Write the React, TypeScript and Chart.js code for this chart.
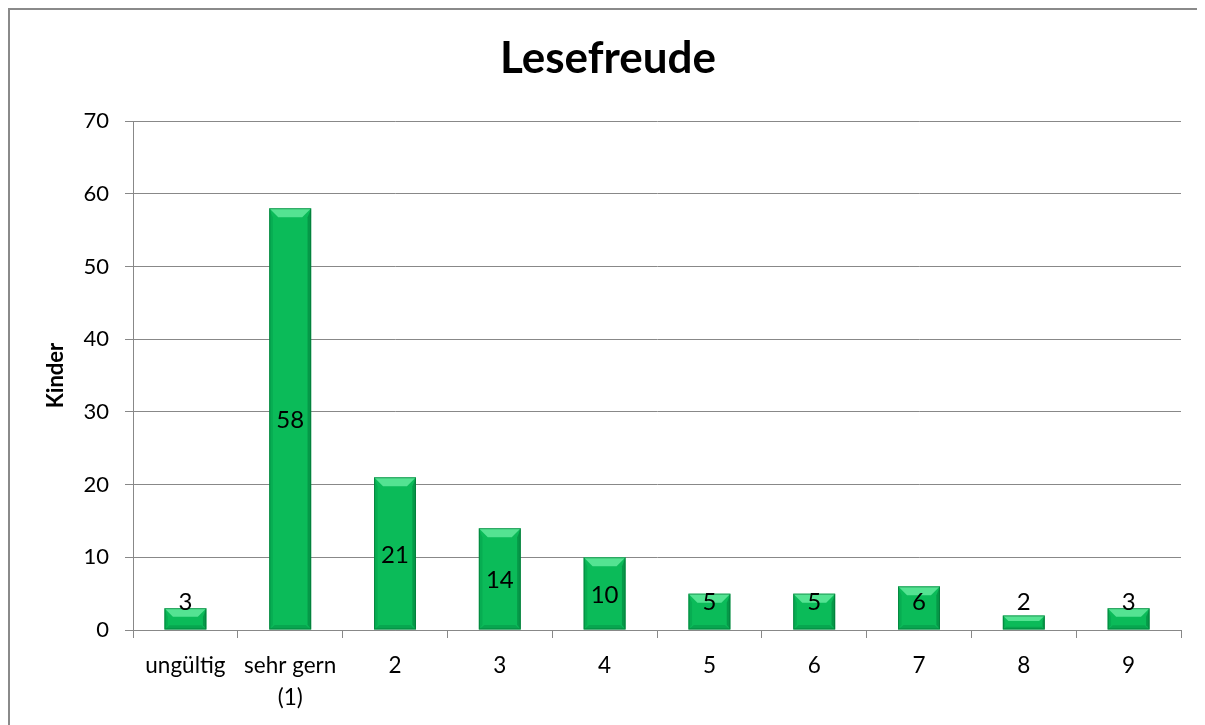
import React, { useEffect, useRef } from "react";
import { Chart, registerables } from "chart.js";

Chart.register(...registerables);

const categories: (string | string[])[] = ["ungültig", ["sehr gern", "(1)"], "2", "3", "4", "5", "6", "7", "8", "9"];
const kinder: number[] = [3, 58, 21, 14, 10, 5, 5, 6, 2, 3];
const yTicks: number[] = [0, 10, 20, 30, 40, 50, 60, 70];
const chartTitle = "Lesefreude";

const FONT = "Lato, 'Open Sans', sans-serif";
const CANVAS_W = 1195;
const CANVAS_H = 715;

const titlePlugin = {
  id: "centeredTitle",
  afterDraw(chart: any) {
    const ctx = chart.ctx;
    ctx.save();
    ctx.fillStyle = "#000";
    ctx.font = `bold 44px ${FONT}`;
    ctx.textAlign = "center";
    ctx.textBaseline = "middle";
    ctx.fillText(chartTitle, 598, 48.5);
    ctx.restore();
  },
};

const bevelPlugin = {
  id: "bevel",
  afterDatasetsDraw(chart: any) {
    const ctx = chart.ctx;
    const meta = chart.getDatasetMeta(0);
    ctx.save();
    meta.data.forEach((bar: any, i: number) => {
      const w = bar.width;
      const l = bar.x - w / 2;
      const r = bar.x + w / 2;
      const t = bar.y;
      const b = bar.base;
      const h = b - t;
      const bv = Math.min(9, h / 2.5);
      ctx.fillStyle = "rgba(110,240,165,0.75)";
      ctx.beginPath();
      ctx.moveTo(l, t);
      ctx.lineTo(r, t);
      ctx.lineTo(r - bv, t + bv);
      ctx.lineTo(l + bv, t + bv);
      ctx.closePath();
      ctx.fill();
      ctx.fillStyle = "rgba(0,150,70,0.35)";
      ctx.beginPath();
      ctx.moveTo(l, t);
      ctx.lineTo(l + bv * 0.4, t + bv);
      ctx.lineTo(l + bv * 0.4, b - bv * 0.5);
      ctx.lineTo(l, b);
      ctx.closePath();
      ctx.fill();
      ctx.fillStyle = "rgba(0,110,50,0.45)";
      ctx.beginPath();
      ctx.moveTo(r, t);
      ctx.lineTo(r - bv * 0.4, t + bv);
      ctx.lineTo(r - bv * 0.4, b - bv * 0.5);
      ctx.lineTo(r, b);
      ctx.closePath();
      ctx.fill();
      ctx.fillStyle = "rgba(0,120,55,0.3)";
      ctx.beginPath();
      ctx.moveTo(l, b);
      ctx.lineTo(r, b);
      ctx.lineTo(r - bv * 0.6, b - bv * 0.5);
      ctx.lineTo(l + bv * 0.6, b - bv * 0.5);
      ctx.closePath();
      ctx.fill();
      ctx.strokeStyle = "rgba(0,110,50,0.6)";
      ctx.lineWidth = 1;
      ctx.strokeRect(l + 0.5, t + 0.5, w - 1, h - 1);
      ctx.fillStyle = "#000";
      ctx.font = `24px ${FONT}`;
      ctx.textAlign = "center";
      ctx.textBaseline = "middle";
      const y = Math.min((t + b) / 2 + 1.5, b - 27);
      ctx.fillText(String(kinder[i]), bar.x, y);
    });
    ctx.restore();
  },
};

export default function App() {
  const ref = useRef<HTMLCanvasElement | null>(null);
  useEffect(() => {
    document.documentElement.style.overflow = "hidden";
    document.body.style.overflow = "hidden";
    if (!ref.current) return;
    const chart = new Chart(ref.current, {
      type: "bar",
      data: {
        labels: categories,
        datasets: [
          {
            label: "Kinder",
            data: kinder,
            backgroundColor: "#0bbb59",
            borderWidth: 0,
            barPercentage: 0.4,
            categoryPercentage: 1,
          },
        ],
      },
      options: {
        responsive: false,
        animation: false,
        layout: { padding: { left: 0, right: 24, top: 111, bottom: 0 } },
        plugins: {
          legend: { display: false },
          tooltip: { enabled: false },
          title: { display: false },
        },
        scales: {
          x: {
            offset: true,
            grid: {
              offset: true,
              drawOnChartArea: false,
              drawTicks: true,
              tickLength: 8,
              color: "#888",
            },
            border: { display: true, color: "#888", width: 1 },
            ticks: {
              color: "#000",
              font: { family: FONT, size: 22.5, lineHeight: 1.4 },
              padding: 12,
              maxRotation: 0,
              autoSkip: false,
            },
            afterFit(scale: any) {
              scale.height = 95;
            },
          },
          y: {
            min: 0,
            max: 70,
            afterBuildTicks(scale: any) {
              scale.ticks = yTicks.map((v) => ({ value: v }));
            },
            grid: {
              color: "#888",
              tickLength: 8,
              drawTicks: true,
            },
            border: { display: true, color: "#888", width: 1 },
            ticks: {
              color: "#000",
              font: { family: FONT, size: 22 },
              padding: 16,
            },
            title: {
              display: true,
              text: "Kinder",
              color: "#000",
              font: { family: FONT, size: 22, weight: "bold", lineHeight: 1.2 },
              padding: { top: 33, bottom: 0 },
            },
            afterFit(scale: any) {
              scale.width = 123;
            },
          },
        },
      },
      plugins: [bevelPlugin, titlePlugin],
    });
    return () => chart.destroy();
  }, []);
  return (
    <div
      style={{
        width: CANVAS_W,
        height: CANVAS_H,
        borderTop: "2px solid #8a8a8a",
        borderLeft: "2px solid #8a8a8a",
        background: "#fff",
        overflow: "hidden",
      }}
    >
      <canvas ref={ref} width={CANVAS_W} height={CANVAS_H} style={{ display: "block" }} />
    </div>
  );
}
